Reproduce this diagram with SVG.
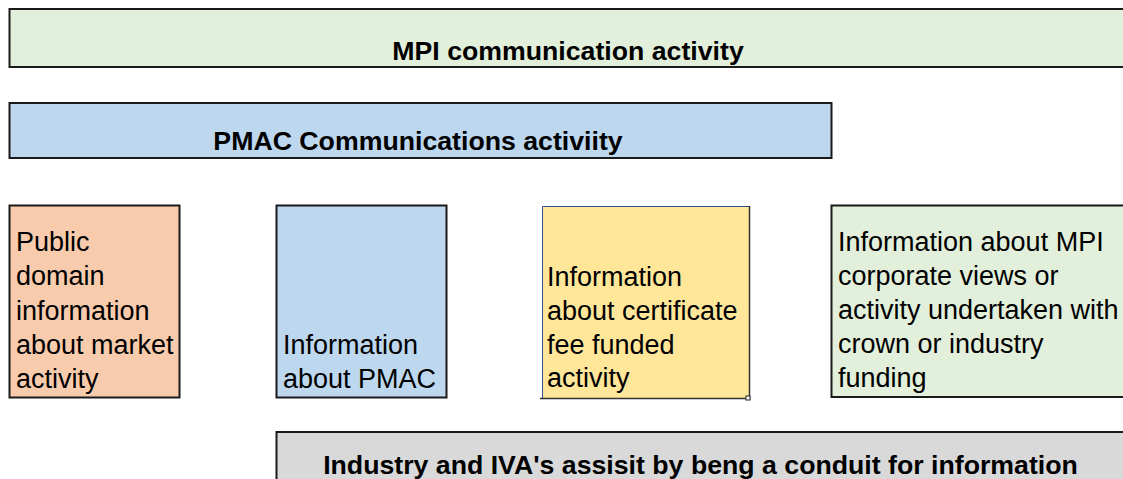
<svg xmlns="http://www.w3.org/2000/svg" width="1123" height="479" viewBox="0 0 1123 479">
  <style>
    .box { stroke: #1a1a1a; stroke-width: 2; }
    .green { fill: #e2efda; }
    .blue { fill: #bdd7ee; }
    .orange { fill: #f8cbad; }
    .yellow { fill: #ffe699; }
    .grey { fill: #d9d9d9; }
    .title { font-family: "Liberation Sans", Arial, sans-serif; font-weight: bold; font-size: 26.7px; fill: #000; }
    .body { font-family: "Liberation Sans", Arial, sans-serif; font-size: 27px; fill: #000; }
  </style>
  <rect x="0" y="0" width="1123" height="479" fill="#ffffff"/>

  <g id="mpi-activity">
    <rect class="box green" x="9.5" y="9" width="1125" height="58"/>
    <text class="title" x="568" y="60" text-anchor="middle">MPI communication activity</text>
  </g>

  <g id="pmac-activity">
    <rect class="box blue" x="9.5" y="103" width="822" height="55"/>
    <text class="title" x="418" y="150" text-anchor="middle">PMAC Communications activiity</text>
  </g>

  <g id="public-domain">
    <rect class="box orange" x="9.5" y="205.5" width="170" height="192"/>
    <text class="body" x="16">
      <tspan x="16" y="251">Public</tspan>
      <tspan x="16" y="285">domain</tspan>
      <tspan x="16" y="319.5">information</tspan>
      <tspan x="16" y="354">about market</tspan>
      <tspan x="16" y="388">activity</tspan>
    </text>
  </g>

  <g id="about-pmac">
    <rect class="box blue" x="276.5" y="205.5" width="170" height="192"/>
    <text class="body" x="283">
      <tspan x="283" y="354">Information</tspan>
      <tspan x="283" y="388">about PMAC</tspan>
    </text>
  </g>

  <g id="certificate-fee">
    <rect class="yellow" x="542.5" y="206.5" width="206.5" height="191.5"/>
    <path d="M542.5 398 V206.5 H749" fill="none" stroke="#2f4f8f" stroke-width="1"/>
    <path d="M749.5 206 V398.5 H540" fill="none" stroke="#333333" stroke-width="1.5"/>
    <rect x="746" y="396" width="4" height="4" fill="#ffffff" stroke="#222222" stroke-width="1"/>
    <text class="body" x="547">
      <tspan x="547" y="286">Information</tspan>
      <tspan x="547" y="320">about certificate</tspan>
      <tspan x="547" y="353.5">fee funded</tspan>
      <tspan x="547" y="387">activity</tspan>
    </text>
  </g>

  <g id="mpi-corporate">
    <rect class="box green" x="831.5" y="205.5" width="300" height="191.5"/>
    <text class="body" x="838">
      <tspan x="838" y="251">Information about MPI</tspan>
      <tspan x="838" y="285">corporate views or</tspan>
      <tspan x="838" y="319">activity undertaken with</tspan>
      <tspan x="838" y="353">crown or industry</tspan>
      <tspan x="838" y="387">funding</tspan>
    </text>
  </g>

  <g id="industry-iva">
    <rect class="box grey" x="276.5" y="432" width="860" height="60"/>
    <text class="title" x="700.5" y="474" text-anchor="middle">Industry and IVA's assisit by beng a conduit for information</text>
  </g>

  <g id="connectors"></g>
</svg>
